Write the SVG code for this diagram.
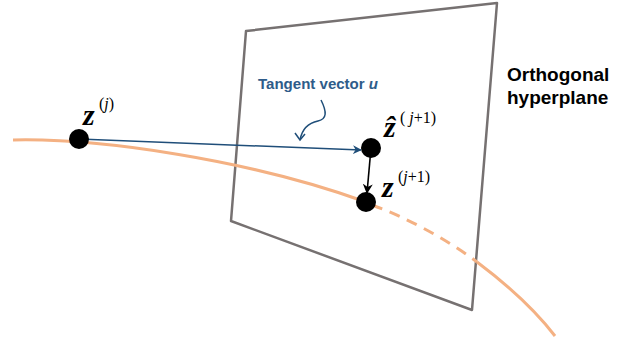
<svg xmlns="http://www.w3.org/2000/svg" width="619" height="338" viewBox="0 0 619 338">
<defs>
<style>
.plane{fill:none;stroke:#767171;stroke-width:2.5;stroke-linejoin:round}
.curve{fill:none;stroke:#F4B183;stroke-width:3}
.dash{stroke-dasharray:11 8}
.tan{fill:none;stroke:#1F4E79;stroke-width:1.5}
.blk{fill:none;stroke:#000;stroke-width:1.6}
.pt{fill:#000}
.math{font-family:"Liberation Serif","Times New Roman",serif;fill:#000}
.zb{font-size:30px;font-style:italic;font-weight:bold}
.sup{font-size:16px}
.lbl{font-family:"Liberation Sans",Arial,sans-serif;font-weight:bold}
</style>
<marker id="ab" viewBox="0 0 10 10" refX="9" refY="5" markerWidth="9" markerHeight="9" markerUnits="userSpaceOnUse" orient="auto"><path d="M0,0 L10,5 L0,10 L3,5 Z" fill="#1F4E79"/></marker>
<marker id="ak" viewBox="0 0 10 10" refX="9" refY="5" markerWidth="10" markerHeight="10" markerUnits="userSpaceOnUse" orient="auto"><path d="M0,0 L10,5 L0,10 L3,5 Z" fill="#000"/></marker>
</defs>
<g id="plane"><path class="plane" d="M246,31 L497,3 L472,310 L231,221 Z"/></g>
<g id="curve">
<path class="curve" d="M13,140 C100,138 250,160 366,202"/>
<path class="curve dash" d="M372,205 C405,217 445,238 477,262"/>
<path class="curve" d="M477,262 C505,283 532,306 555,336"/>
</g>
<g id="connectors">
<path class="tan" d="M79,139 L361,150" marker-end="url(#ab)"/>
<path class="blk" d="M371,148 L367,193" marker-end="url(#ak)"/>
<path class="tan" d="M321,100 C327,112 327,119 318,121 C308,123 302,129 300,140"/>
<path class="tan" d="M295,133 L300,140 L305,134"/>
</g>
<g id="zj">
<circle class="pt" cx="79" cy="139" r="10"/>
<text class="math zb" x="83" y="125">z</text>
<text class="math sup" x="99" y="109">(<tspan font-style="italic">j</tspan>)</text>
</g>
<g id="zhat">
<circle class="pt" cx="371" cy="148" r="10"/>
<text class="math zb" x="384" y="137">ẑ</text>
<text class="math sup" x="400" y="123">(<tspan font-style="italic"> j</tspan>+1)</text>
</g>
<g id="znext">
<circle class="pt" cx="366" cy="202" r="10"/>
<text class="math zb" x="382" y="197">z</text>
<text class="math sup" x="398" y="182">(<tspan font-style="italic">j</tspan>+1)</text>
</g>
<g id="tangent-label">
<text class="lbl" x="258" y="89" font-size="14.5" fill="#2E5C8A" textLength="120" lengthAdjust="spacingAndGlyphs">Tangent vector <tspan font-style="italic">u</tspan></text>
</g>
<g id="plane-label">
<text class="lbl" x="507" y="81" font-size="19" fill="#000">Orthogonal</text>
<text class="lbl" x="507" y="104" font-size="19" fill="#000">hyperplane</text>
</g>
</svg>
